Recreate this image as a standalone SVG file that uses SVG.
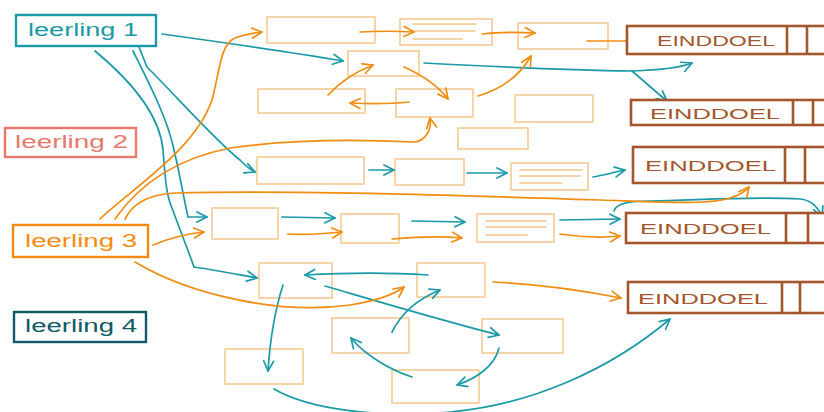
<svg xmlns="http://www.w3.org/2000/svg" width="824" height="412" viewBox="0 0 824 412">
<defs>
<style>
.bg{fill:#ffffff}
.step{fill:none;stroke:#f6d4a8;stroke-width:2;stroke-linejoin:round}
.stepline{fill:none;stroke:#f6d4a8;stroke-width:1.8;stroke-linecap:round}
.goal{fill:#ffffff;stroke:#a4552b;stroke-width:2.6}
.goaltxt{font-family:"Liberation Sans",Arial,sans-serif;font-size:15px;fill:#a4552b}
.stud{fill:#ffffff;stroke-width:2.4}
.studtxt{font-family:"Liberation Sans",Arial,sans-serif;font-size:18px}
.t{fill:none;stroke:#1a9aa8;stroke-width:1.7;stroke-linecap:round;marker-end:url(#at)}
.tn{fill:none;stroke:#1a9aa8;stroke-width:1.7;stroke-linecap:round}
.o{fill:none;stroke:#f28c10;stroke-width:1.7;stroke-linecap:round;marker-end:url(#ao)}
</style>
<marker id="at" viewBox="0 0 12 12" refX="11" refY="6" markerWidth="12" markerHeight="12" markerUnits="userSpaceOnUse" orient="auto">
<path d="M1,1 L11,6 L1,11" fill="none" stroke="#1a9aa8" stroke-width="1.7" stroke-linecap="round" stroke-linejoin="round"/>
</marker>
<marker id="ao" viewBox="0 0 12 12" refX="11" refY="6" markerWidth="12" markerHeight="12" markerUnits="userSpaceOnUse" orient="auto">
<path d="M1,1 L11,6 L1,11" fill="none" stroke="#f28c10" stroke-width="1.7" stroke-linecap="round" stroke-linejoin="round"/>
</marker>
</defs>
<rect class="bg" x="0" y="0" width="824" height="412"/>

<g id="steps">
<rect class="step" x="267" y="17" width="108" height="26"/>
<g id="stepB"><rect class="step" x="400" y="19" width="92" height="26"/>
<line class="stepline" x1="413" y1="24" x2="476" y2="24"/><line class="stepline" x1="413" y1="31" x2="475" y2="31"/><line class="stepline" x1="413" y1="39" x2="462" y2="39"/></g>
<rect class="step" x="518" y="23" width="90" height="26"/>
<rect class="step" x="348" y="51" width="71" height="25"/>
<rect class="step" x="258" y="89" width="107" height="24"/>
<rect class="step" x="396" y="89" width="77" height="28"/>
<rect class="step" x="515" y="95" width="78" height="27"/>
<rect class="step" x="458" y="128" width="70" height="21"/>
<rect class="step" x="257" y="157" width="107" height="27"/>
<rect class="step" x="395" y="159" width="69" height="26"/>
<g id="stepK"><rect class="step" x="511" y="163" width="77" height="27"/>
<line class="stepline" x1="520" y1="170" x2="582" y2="170"/><line class="stepline" x1="520" y1="176" x2="580" y2="176"/><line class="stepline" x1="520" y1="183" x2="562" y2="183"/></g>
<rect class="step" x="212" y="208" width="66" height="31"/>
<rect class="step" x="341" y="214" width="58" height="29"/>
<g id="stepN"><rect class="step" x="477" y="214" width="77" height="28"/>
<line class="stepline" x1="486" y1="221" x2="546" y2="221"/><line class="stepline" x1="486" y1="227" x2="546" y2="227"/><line class="stepline" x1="486" y1="235" x2="527" y2="235"/></g>
<rect class="step" x="259" y="263" width="73" height="35"/>
<rect class="step" x="417" y="263" width="68" height="34"/>
<rect class="step" x="332" y="318" width="77" height="35"/>
<rect class="step" x="482" y="319" width="81" height="34"/>
<rect class="step" x="225" y="349" width="78" height="35"/>
<rect class="step" x="392" y="370" width="87" height="33"/>
</g>

<g id="connectors">
<!-- teal -->
<path class="t" d="M162,34 C220,42 290,52 343,61"/>
<path class="tn" d="M95,51 C130,80 160,115 163,150 C165,175 166,195 172,208 C180,230 188,250 194,267"/>
<path class="t" d="M194,267 C215,270 235,274 257,278"/>
<path class="t" d="M133,51 C150,85 168,120 174,150 C180,175 184,200 188,217 L207,217"/>
<path class="t" d="M137,42 L147,67 C180,100 215,140 240,160 C246,166 250,170 255,172"/>
<path class="tn" d="M424,63 C500,67 570,70 632,71"/>
<path class="t" d="M632,71 C660,70 680,68 692,63"/>
<path class="t" d="M632,71 C645,82 656,92 667,101"/>
<path class="t" d="M369,170 L394,170"/>
<path class="t" d="M467,173 L507,173"/>
<path class="t" d="M593,177 C605,175 615,172 625,170"/>
<path class="t" d="M282,217 L335,218"/>
<path class="t" d="M412,221 L465,222"/>
<path class="t" d="M560,220 L620,219"/>
<path class="t" d="M614,211 C616,203 630,201 650,201 C700,200 760,196 800,199 C812,200 818,207 822,217"/>
<path class="t" d="M428,275 C385,272 340,273 305,275"/>
<path class="t" d="M325,286 C380,302 440,320 499,335"/>
<path class="t" d="M283,285 C275,310 270,340 268,371"/>
<path class="t" d="M392,332 C402,312 420,298 440,290"/>
<path class="t" d="M412,377 C390,370 365,355 351,338"/>
<path class="t" d="M499,348 C495,365 478,378 457,385"/>
<path class="t" d="M274,389 C310,410 380,418 450,412 C530,405 610,370 670,319"/>
<!-- orange -->
<path class="o" d="M100,219 C130,190 195,150 212,100 C220,70 220,45 235,38 C245,34 253,33 262,32"/>
<path class="o" d="M115,219 C135,190 170,160 230,148 C300,138 370,140 413,142 C425,142 432,130 430,118"/>
<path class="o" d="M125,219 C132,205 145,195 175,193 C300,190 480,196 600,200 C660,202 710,205 730,198 C740,195 745,192 749,187"/>
<path class="o" d="M153,245 C170,238 185,234 204,232"/>
<path class="o" d="M135,262 C190,295 280,315 350,305 C375,301 392,296 404,287"/>
<path class="o" d="M288,234 C305,235 322,234 342,232"/>
<path class="o" d="M392,239 C415,237 440,236 462,238"/>
<path class="o" d="M560,234 C580,237 600,238 620,236"/>
<path class="o" d="M493,282 C540,284 580,290 621,298"/>
<path class="o" d="M360,32 C378,31 395,31 414,32"/>
<path class="o" d="M482,34 C498,32 515,32 535,33"/>
<path class="o" d="M587,41 L641,41"/>
<path class="o" d="M328,95 C340,82 355,72 373,65"/>
<path class="o" d="M404,67 C422,75 438,86 448,99"/>
<path class="o" d="M409,102 C390,104 370,104 350,103"/>
<path class="o" d="M478,96 C505,88 522,72 531,56"/>
</g>

<g id="leerling1">
<rect class="stud" x="16" y="15" width="140" height="31" stroke="#1a9aa8"/>
<text class="studtxt" x="28" y="36" fill="#1a9aa8" textLength="110" lengthAdjust="spacingAndGlyphs">leerling 1</text>
</g>
<g id="leerling2">
<rect class="stud" x="5" y="128" width="131" height="29" stroke="#e8786c"/>
<text class="studtxt" x="15" y="148" fill="#e8786c" textLength="113" lengthAdjust="spacingAndGlyphs">leerling 2</text>
</g>
<g id="leerling3">
<rect class="stud" x="13" y="225" width="135" height="32" stroke="#f28c10"/>
<text class="studtxt" x="25" y="247" fill="#f28c10" textLength="112" lengthAdjust="spacingAndGlyphs">leerling 3</text>
</g>
<g id="leerling4">
<rect class="stud" x="14" y="312" width="132" height="30" stroke="#0f5a66"/>
<text class="studtxt" x="25" y="332" fill="#0f5a66" textLength="112" lengthAdjust="spacingAndGlyphs">leerling 4</text>
</g>

<g id="eind1">
<rect class="goal" x="627" y="26" width="200" height="28"/>
<line class="goal" x1="787" y1="26" x2="787" y2="54"/><line class="goal" x1="807" y1="26" x2="807" y2="54"/>
<text class="goaltxt" x="657" y="46" textLength="118" lengthAdjust="spacingAndGlyphs">EINDDOEL</text>
</g>
<g id="eind2">
<rect class="goal" x="631" y="100" width="196" height="25"/>
<line class="goal" x1="793" y1="100" x2="793" y2="125"/><line class="goal" x1="813" y1="100" x2="813" y2="125"/>
<text class="goaltxt" x="650" y="119" textLength="130" lengthAdjust="spacingAndGlyphs">EINDDOEL</text>
</g>
<g id="eind3">
<rect class="goal" x="633" y="147" width="194" height="36"/>
<line class="goal" x1="785" y1="147" x2="785" y2="183"/><line class="goal" x1="805" y1="147" x2="805" y2="183"/>
<text class="goaltxt" x="645" y="171" textLength="131" lengthAdjust="spacingAndGlyphs">EINDDOEL</text>
</g>
<g id="eind4">
<rect class="goal" x="626" y="213" width="201" height="30"/>
<line class="goal" x1="786" y1="213" x2="786" y2="243"/><line class="goal" x1="808" y1="213" x2="808" y2="243"/>
<text class="goaltxt" x="640" y="234" textLength="131" lengthAdjust="spacingAndGlyphs">EINDDOEL</text>
</g>
<g id="eind5">
<rect class="goal" x="628" y="282" width="199" height="31"/>
<line class="goal" x1="782" y1="282" x2="782" y2="313"/><line class="goal" x1="800" y1="282" x2="800" y2="313"/>
<text class="goaltxt" x="638" y="304" textLength="130" lengthAdjust="spacingAndGlyphs">EINDDOEL</text>
</g>
</svg>
